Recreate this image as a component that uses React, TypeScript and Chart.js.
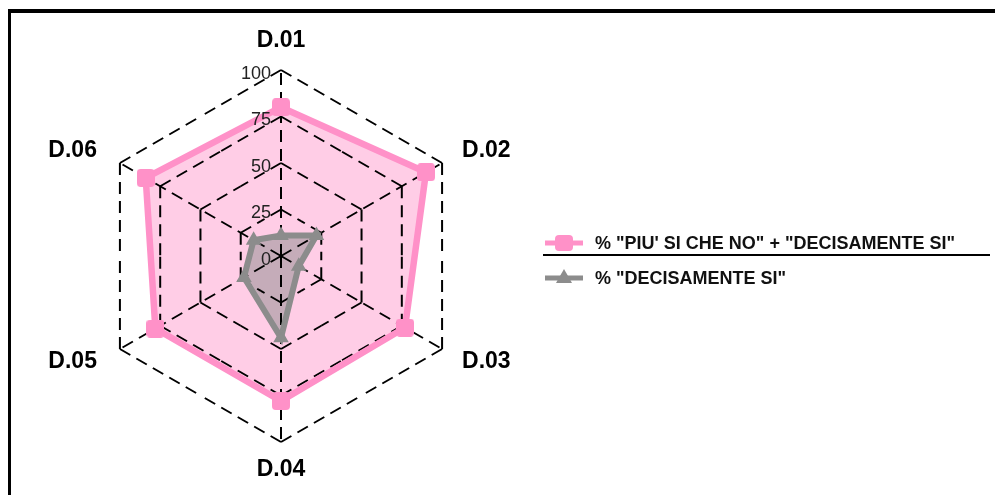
import React, { useEffect, useRef } from "react";
import { Chart, registerables } from "chart.js";

Chart.register(...registerables);

const categories = ["D.01", "D.02", "D.03", "D.04", "D.05", "D.06"];
const piuSiCheNo = [80, 90, 77, 78, 78, 84];
const decisamenteSi = [11, 22, 11, 44, 23, 17];
const tickValues = [0, 25, 50, 75, 100];
const seriesNames = ['% "PIU\' SI CHE NO" + "DECISAMENTE SI"', '% "DECISAMENTE SI"'];

const PINK = "rgb(255,145,200)";
const PINK_FILL = "rgba(255,145,200,0.45)";
const GRAY = "rgb(140,140,140)";
const GRAY_FILL = "rgba(140,140,140,0.5)";
const FONT = '"Liberation Sans", Arial, sans-serif';

function makeRoundSquare(size: number, color: string) {
  const c = document.createElement("canvas");
  c.width = size;
  c.height = size;
  const g = c.getContext("2d") as any;
  g.fillStyle = color;
  g.beginPath();
  g.roundRect(0, 0, size, size, 4);
  g.fill();
  return c;
}

const gridPlugin = {
  id: "customGrid",
  beforeDatasetsDraw(chart: any) {
    const s = chart.scales.r;
    const ctx = chart.ctx as CanvasRenderingContext2D;
    const n = categories.length;
    ctx.save();
    ctx.strokeStyle = "#000";
    ctx.lineWidth = 2;
    ctx.setLineDash([12, 7]);
    for (const v of tickValues) {
      if (v === 0) continue;
      const d = s.getDistanceFromCenterForValue(v);
      for (let i = 0; i < n; i++) {
        const a = s.getPointPosition(i, d);
        const b = s.getPointPosition((i + 1) % n, d);
        const mx = (a.x + b.x) / 2;
        const my = (a.y + b.y) / 2;
        ctx.beginPath();
        ctx.moveTo(a.x, a.y);
        ctx.lineTo(mx, my);
        ctx.stroke();
        ctx.beginPath();
        ctx.moveTo(b.x, b.y);
        ctx.lineTo(mx, my);
        ctx.stroke();
      }
    }
    const dMax = s.getDistanceFromCenterForValue(100);
    for (let i = 0; i < n; i++) {
      const p = s.getPointPosition(i, dMax);
      ctx.beginPath();
      ctx.moveTo(s.xCenter, s.yCenter);
      ctx.lineTo(p.x, p.y);
      ctx.stroke();
    }
    ctx.restore();
  },
  afterDraw(chart: any) {
    const s = chart.scales.r;
    const ctx = chart.ctx as CanvasRenderingContext2D;
    const n = categories.length;
    ctx.save();
    // tick labels
    ctx.font = `18px ${FONT}`;
    ctx.fillStyle = "#222";
    ctx.textAlign = "right";
    ctx.textBaseline = "middle";
    for (const v of tickValues) {
      const d = s.getDistanceFromCenterForValue(v);
      ctx.fillText(String(v), s.xCenter - 10, s.yCenter - d + 4);
    }
    // point labels
    ctx.font = `bold 23px ${FONT}`;
    ctx.fillStyle = "#000";
    const dMax = s.getDistanceFromCenterForValue(100);
    for (let i = 0; i < n; i++) {
      const p = s.getPointPosition(i, dMax);
      let x = p.x;
      let y = p.y;
      if (i === 0) {
        ctx.textAlign = "center";
        y -= 29;
      } else if (i === 3) {
        ctx.textAlign = "center";
        y += 28;
      } else if (i === 1 || i === 2) {
        ctx.textAlign = "left";
        x += 20;
        y += i === 1 ? -12 : 13;
      } else {
        ctx.textAlign = "right";
        x -= 23;
        y += i === 5 ? -12 : 13;
      }
      ctx.fillText(categories[i], x, y);
    }
    // legend
    const items = [
      { y: 243, color: PINK, shape: "rect" },
      { y: 278, color: GRAY, shape: "tri" },
    ];
    items.forEach((it, k) => {
      ctx.strokeStyle = it.color;
      ctx.fillStyle = it.color;
      ctx.lineWidth = 5;
      ctx.beginPath();
      ctx.moveTo(545, it.y);
      ctx.lineTo(583, it.y);
      ctx.stroke();
      const cx = 564;
      if (it.shape === "rect") {
        ctx.beginPath();
        (ctx as any).roundRect(cx - 9, it.y - 8, 18, 16, 4);
        ctx.fill();
      } else {
        ctx.beginPath();
        ctx.moveTo(cx, it.y - 9);
        ctx.lineTo(cx + 8, it.y + 5);
        ctx.lineTo(cx - 8, it.y + 5);
        ctx.closePath();
        ctx.fill();
      }
      ctx.fillStyle = "#111";
      ctx.font = `bold 18px ${FONT}`;
      ctx.textAlign = "left";
      ctx.textBaseline = "middle";
      ctx.fillText(seriesNames[k], 595, it.y + 1);
    });
    ctx.strokeStyle = "#000";
    ctx.lineWidth = 2;
    ctx.beginPath();
    ctx.moveTo(543, 255);
    ctx.lineTo(990, 255);
    ctx.stroke();
    ctx.restore();
  },
};

export default function App() {
  const ref = useRef<HTMLCanvasElement | null>(null);
  useEffect(() => {
    if (!ref.current) return;
    const pinkMarker = makeRoundSquare(18, PINK);
    const chart = new Chart(ref.current, {
      type: "radar",
      data: {
        labels: categories,
        datasets: [
          {
            label: seriesNames[0],
            data: piuSiCheNo,
            borderColor: PINK,
            backgroundColor: PINK_FILL,
            pointBackgroundColor: PINK,
            pointBorderColor: PINK,
            pointStyle: pinkMarker as any,
            pointRadius: 9,
            pointBorderWidth: 0,
            borderWidth: 6.5,
            fill: true,
            order: 1,
          },
          {
            label: seriesNames[1],
            data: decisamenteSi,
            borderColor: GRAY,
            backgroundColor: GRAY_FILL,
            pointBackgroundColor: GRAY,
            pointBorderColor: GRAY,
            pointStyle: "triangle",
            pointRadius: 7,
            pointBorderWidth: 2,
            borderWidth: 6,
            fill: true,
            order: 0,
          },
        ],
      },
      options: {
        responsive: false,
        animation: false,
        layout: { padding: { left: 95, right: 528, top: 70, bottom: 53 } },
        plugins: {
          legend: { display: false },
          tooltip: { enabled: false },
          filler: { drawTime: "beforeDatasetsDraw" },
        } as any,
        scales: {
          r: {
            min: 0,
            max: 100,
            ticks: { display: false, stepSize: 25 },
            grid: { display: false },
            angleLines: { display: false },
            pointLabels: { display: false },
          },
        },
      },
      plugins: [gridPlugin],
    });
    return () => chart.destroy();
  }, []);
  return (
    <div style={{ position: "fixed", left: 0, top: 0, width: 995, height: 495, background: "#fff" }}>
      <canvas ref={ref} width={995} height={495} style={{ position: "absolute", left: 0, top: 0 }} />
      <div
        style={{
          position: "absolute",
          left: 8,
          top: 9,
          width: 995,
          height: 495,
          borderTop: "4px solid #000",
          borderLeft: "3px solid #000",
          pointerEvents: "none",
        }}
      />
    </div>
  );
}
